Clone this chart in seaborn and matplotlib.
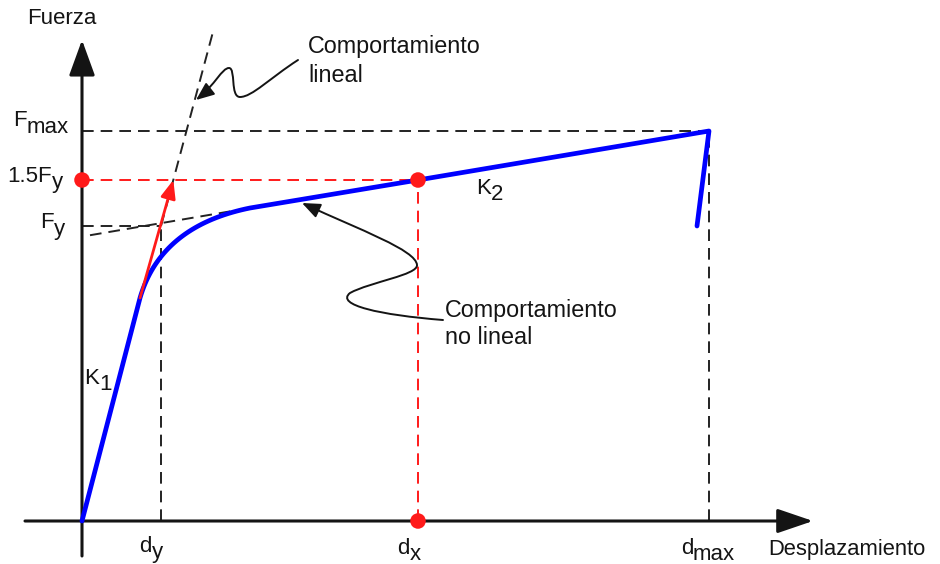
import numpy as np
import pandas as pd
import matplotlib
matplotlib.use("Agg")
import matplotlib.pyplot as plt
from matplotlib.patches import FancyArrowPatch
from matplotlib.path import Path
import seaborn as sns

# ---------------- data (schematic units) ----------------
d_y, d_x, d_max = 79, 336, 627          # displacement marks
F_y, F_15, F_max = 295, 341, 390        # force marks
# key points of the capacity curve: end of K1, end of bend, K2 point, peak, drop end
curve_disp = [0, 58, 168, 336, 627, 615]
curve_force = [0, 223, 313, 341, 390, 295]
k2_dash_start = 8          # start of dashed extension of K2 line
lin_dash_top = 491         # force where dashed linear line ends
x_ticks = ["d", "d", "d"]
x_subs = ["y", "x", "max"]
y_ticks = ["F", "1.5F", "F"]
y_subs = ["max", "y", "y"]

sns.set_theme(style="white")
plt.rcParams["font.family"] = ["Liberation Sans", "DejaVu Sans"]

fig = plt.figure(figsize=(9.4, 5.64), dpi=100)
ax = fig.add_axes([0, 0, 1, 1])
ax.set_xlim(-82, 858)
ax.set_ylim(-43, 521)
ax.axis("off")

BLUE = "#0000ff"
RED = "#ff1a1a"
dash = (6.0, 3.6)
dlw = 1.4
INK = "#141414"

# ---------------- axes with arrows ----------------
ax.add_patch(FancyArrowPatch((-57, 0), (731, 0), arrowstyle="-|>,head_length=22,head_width=7.5",
                             mutation_scale=1, lw=2.2, color=INK, shrinkA=0, shrinkB=0, zorder=3))
ax.add_patch(FancyArrowPatch((0, -35), (0, 481), arrowstyle="-|>,head_length=22,head_width=8",
                             mutation_scale=1, lw=2.2, color=INK, shrinkA=0, shrinkB=0, zorder=3))

# ---------------- dashed guide lines ----------------
def dline(xs, ys, color="#222222", z=2):
    ax.plot(xs, ys, color=color, lw=dlw, dashes=dash, zorder=z)

dline([0, d_max], [F_max, F_max])
dline([d_max, d_max], [0, F_max])
dline([0, d_y], [F_y, F_y])
dline([d_y, d_y], [0, F_y])
# linear behaviour line through (d_y, F_y)
k1 = F_y / d_y
dline([d_y, lin_dash_top / k1], [F_y, lin_dash_top])
# K2 extension
k2 = (curve_force[4] - curve_force[3]) / (curve_disp[4] - curve_disp[3])
dline([k2_dash_start, curve_disp[2]],
      [curve_force[3] - k2 * (curve_disp[3] - k2_dash_start), curve_force[2]])
# red
dline([0, d_x], [F_15, F_15], color=RED)
dline([d_x, d_x], [0, F_15], color=RED)

# ---------------- capacity curve (blue) ----------------
P1 = np.array([curve_disp[1], curve_force[1]], float)
P2 = np.array([curve_disp[2], curve_force[2]], float)
C = np.array([d_y, F_y], float)
t = np.linspace(0, 1, 40)[:, None]
bend = (1 - t) ** 2 * P1 + 2 * t * (1 - t) * C + t ** 2 * P2
xs = np.concatenate([[curve_disp[0]], bend[:, 0], curve_disp[3:]])
ys = np.concatenate([[curve_force[0]], bend[:, 1], curve_force[3:]])
df = pd.DataFrame({"Desplazamiento": xs, "Fuerza": ys})
sns.lineplot(data=df, x="Desplazamiento", y="Fuerza", sort=False, color=BLUE, lw=3.4,
             ax=ax, zorder=4, solid_capstyle="round", solid_joinstyle="round", estimator=None)
ax.set_xlim(-82, 858)
ax.set_ylim(-43, 521)

# red arrow along K1 to 1.5Fy
ax.add_patch(FancyArrowPatch((curve_disp[1], curve_force[1]), (F_15 / k1, F_15),
                             arrowstyle="-|>,head_length=11,head_width=4.5", mutation_scale=1,
                             lw=2.0, color=RED, shrinkA=0, shrinkB=0, zorder=5))

# red points
pts = pd.DataFrame({"x": [0, d_x, d_x], "y": [F_15, F_15, 0]})
sns.scatterplot(data=pts, x="x", y="y", color=RED, s=125, edgecolor="none", zorder=6, ax=ax)
ax.set_xlabel("")
ax.set_ylabel("")

# ---------------- labels ----------------
fs = 16
def sublabel(x, y, main, sub, dy=-6.5):
    ax.text(x, y, main, ha="right", va="center", fontsize=fs, color=INK)
    ax.text(x, y + dy, sub, ha="left", va="center", fontsize=fs, color=INK)

sublabel(-55, 400, y_ticks[0], y_subs[0])
sublabel(-30, 345, y_ticks[1], y_subs[1])
sublabel(-28, 298, y_ticks[2], y_subs[2])
sublabel(d_y - 9, -25, x_ticks[0], x_subs[0])
sublabel(d_x - 8, -27, x_ticks[1], x_subs[1])
sublabel(d_max - 16, -27, x_ticks[2], x_subs[2])
sublabel(17, 143, "K", "1")
sublabel(409, 333, "K", "2")

ax.text(-20, 503, "Fuerza", ha="center", va="center", fontsize=fs, color=INK)
ax.text(765, -28, "Desplazamiento", ha="center", va="center", fontsize=15.8, color=INK)
ax.text(226, 474, "Comportamiento", ha="left", va="center", fontsize=16.8, color=INK)
ax.text(226, 446, "lineal", ha="left", va="center", fontsize=16.8, color=INK)
ax.text(363, 210, "Comportamiento", ha="left", va="center", fontsize=16.8, color=INK)
ax.text(363, 184, "no lineal", ha="left", va="center", fontsize=16.8, color=INK)

# ---------------- wavy annotation arrows ----------------
def px(p):
    return (p[0] - 82, 521 - p[1])

def wavy(points):
    verts = [px(p) for p in points]
    codes = [Path.MOVETO] + [Path.CURVE4] * (len(verts) - 1)
    ax.add_patch(FancyArrowPatch(path=Path(verts, codes),
                                 arrowstyle="-|>,head_length=11,head_width=4.5", mutation_scale=1,
                                 lw=1.4, color=INK, zorder=5))

wavy([(298, 60), (270, 78), (252, 97), (240, 97),
      (230, 97), (236, 68), (229, 68),
      (222, 68), (215, 85), (196, 100)])
wavy([(443, 320), (380, 315), (335, 305), (350, 293),
      (370, 282), (418, 275), (417, 265),
      (416, 250), (360, 230), (302, 203)])

fig.savefig("out.png", dpi=100)
